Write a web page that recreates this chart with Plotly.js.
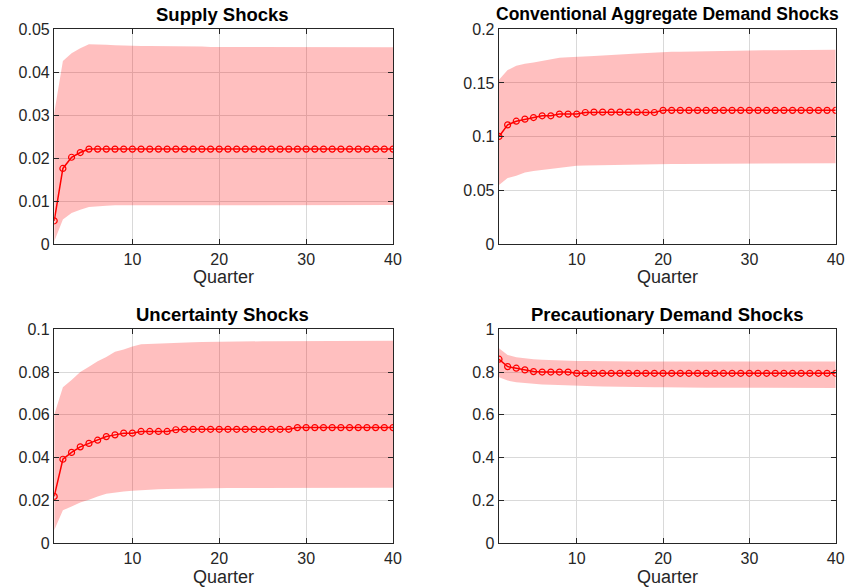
<!DOCTYPE html>
<html>
<head>
<meta charset="utf-8">
<script src="https://cdn.plot.ly/plotly-3.0.1.min.js"></script>
<style>html,body{margin:0;padding:0;background:#fff;}#chart{width:859px;height:587px;}</style>
</head>
<body>
<div id="chart"></div>
<script>
// Quarters 1..40
const quarters = [1,2,3,4,5,6,7,8,9,10,11,12,13,14,15,16,17,18,19,20,21,22,23,24,25,26,27,28,29,30,31,32,33,34,35,36,37,38,39,40];

const titles = ["Supply Shocks", "Conventional Aggregate Demand Shocks", "Uncertainty Shocks", "Precautionary Demand Shocks"];

// Supply Shocks
const supplyMid = [0.0054,0.0176,0.0202,0.0213,0.0221,0.0221,0.0221,0.0221,0.0221,0.0221,0.0221,0.0221,0.0221,0.0221,0.0221,0.0221,0.0221,0.0221,0.0221,0.0221,0.0221,0.0221,0.0221,0.0221,0.0221,0.0221,0.0221,0.0221,0.0221,0.0221,0.0221,0.0221,0.0221,0.0221,0.0221,0.0221,0.0221,0.0221,0.0221,0.0221];
const supplyUpper = [0.0305,0.0426,0.0444,0.0456,0.0465,0.0465,0.0464,0.0463,0.0462,0.0462,0.0461,0.0461,0.0461,0.0460,0.0460,0.0460,0.0460,0.0460,0.0459,0.0459,0.0459,0.0459,0.0459,0.0459,0.0459,0.0459,0.0459,0.0459,0.0458,0.0458,0.0458,0.0458,0.0458,0.0458,0.0458,0.0458,0.0458,0.0458,0.0458,0.0458];
const supplyLower = [0.0006,0.0057,0.0072,0.0080,0.0086,0.0088,0.0089,0.0090,0.0090,0.0090,0.0090,0.0091,0.0091,0.0091,0.0091,0.0091,0.0091,0.0091,0.0091,0.0091,0.0091,0.0091,0.0091,0.0091,0.0091,0.0091,0.0091,0.0091,0.0091,0.0091,0.0091,0.0091,0.0091,0.0091,0.0091,0.0091,0.0091,0.0091,0.0091,0.0091];

// Conventional Aggregate Demand Shocks
const demandMid = [0.1002,0.1110,0.1144,0.1163,0.1178,0.1194,0.1194,0.1210,0.1210,0.1210,0.1225,0.1228,0.1228,0.1228,0.1228,0.1228,0.1228,0.1225,0.1225,0.1245,0.1245,0.1245,0.1245,0.1245,0.1245,0.1245,0.1245,0.1245,0.1245,0.1245,0.1245,0.1245,0.1245,0.1245,0.1245,0.1245,0.1245,0.1245,0.1245,0.1245];
const demandUpper = [0.1530,0.1620,0.1660,0.1680,0.1690,0.1705,0.1720,0.1736,0.1740,0.1746,0.1750,0.1752,0.1755,0.1758,0.1760,0.1770,0.1775,0.1780,0.1780,0.1788,0.1790,0.1792,0.1794,0.1796,0.1798,0.1800,0.1801,0.1802,0.1803,0.1804,0.1805,0.1806,0.1806,0.1807,0.1807,0.1808,0.1808,0.1809,0.1809,0.1810];
const demandLower = [0.0550,0.0614,0.0636,0.0667,0.0680,0.0690,0.0705,0.0716,0.0722,0.0729,0.0732,0.0734,0.0736,0.0737,0.0738,0.0740,0.0741,0.0742,0.0743,0.0744,0.0745,0.0746,0.0746,0.0747,0.0748,0.0748,0.0749,0.0749,0.0750,0.0750,0.0751,0.0751,0.0751,0.0752,0.0752,0.0752,0.0752,0.0753,0.0753,0.0753];

// Uncertainty Shocks
const uncertMid = [0.0218,0.0392,0.0424,0.0450,0.0466,0.0481,0.0498,0.0506,0.0514,0.0514,0.0522,0.0522,0.0522,0.0522,0.0530,0.0532,0.0532,0.0532,0.0532,0.0532,0.0532,0.0532,0.0532,0.0532,0.0532,0.0532,0.0532,0.0532,0.0540,0.0540,0.0540,0.0540,0.0540,0.0540,0.0540,0.0540,0.0540,0.0540,0.0540,0.0540];
const uncertUpper = [0.0600,0.0729,0.0763,0.0800,0.0825,0.0850,0.0870,0.0895,0.0906,0.0920,0.0930,0.0932,0.0934,0.0935,0.0937,0.0938,0.0939,0.0940,0.0941,0.0942,0.0942,0.0943,0.0943,0.0943,0.0944,0.0944,0.0944,0.0944,0.0945,0.0945,0.0945,0.0945,0.0945,0.0946,0.0946,0.0946,0.0946,0.0946,0.0946,0.0946];
const uncertLower = [0.0060,0.0153,0.0171,0.0190,0.0202,0.0218,0.0230,0.0237,0.0241,0.0245,0.0248,0.0250,0.0251,0.0253,0.0254,0.0255,0.0256,0.0256,0.0257,0.0257,0.0257,0.0257,0.0257,0.0257,0.0257,0.0258,0.0258,0.0258,0.0258,0.0258,0.0258,0.0258,0.0258,0.0258,0.0258,0.0258,0.0258,0.0258,0.0258,0.0258];

// Precautionary Demand Shocks
const precMid = [0.860,0.8255,0.818,0.810,0.802,0.800,0.800,0.800,0.800,0.794,0.794,0.794,0.794,0.794,0.794,0.794,0.794,0.794,0.794,0.794,0.794,0.794,0.794,0.794,0.794,0.794,0.794,0.794,0.794,0.794,0.794,0.794,0.794,0.794,0.794,0.794,0.794,0.794,0.794,0.794];
const precUpper = [0.911,0.880,0.869,0.864,0.860,0.858,0.856,0.855,0.853,0.852,0.852,0.851,0.851,0.850,0.850,0.850,0.849,0.849,0.849,0.849,0.849,0.849,0.849,0.849,0.849,0.849,0.849,0.849,0.849,0.849,0.849,0.849,0.849,0.849,0.849,0.849,0.849,0.849,0.849,0.849];
const precLower = [0.776,0.760,0.752,0.748,0.745,0.742,0.740,0.738,0.736,0.735,0.734,0.733,0.732,0.731,0.731,0.730,0.730,0.729,0.729,0.729,0.728,0.728,0.728,0.727,0.727,0.727,0.727,0.726,0.726,0.726,0.726,0.726,0.725,0.725,0.725,0.725,0.725,0.725,0.725,0.725];

// Tick values / labels
const xTickVals = [10,20,30,40];
const xTickText = ["10","20","30","40"];
const yTicks1 = [0,0.01,0.02,0.03,0.04,0.05];
const yText1 = ["0","0.01","0.02","0.03","0.04","0.05"];
const yTicks2 = [0,0.05,0.1,0.15,0.2];
const yText2 = ["0","0.05","0.1","0.15","0.2"];
const yTicks3 = [0,0.02,0.04,0.06,0.08,0.1];
const yText3 = ["0","0.02","0.04","0.06","0.08","0.1"];
const yTicks4 = [0,0.2,0.4,0.6,0.8,1];
const yText4 = ["0","0.2","0.4","0.6","0.8","1"];
const xLabel = "Quarter";

const panels = [
  {mid: supplyMid, up: supplyUpper, lo: supplyLower, yv: yTicks1, yt: yText1, yr: [0,0.05]},
  {mid: demandMid, up: demandUpper, lo: demandLower, yv: yTicks2, yt: yText2, yr: [0,0.2]},
  {mid: uncertMid, up: uncertUpper, lo: uncertLower, yv: yTicks3, yt: yText3, yr: [0,0.1]},
  {mid: precMid, up: precUpper, lo: precLower, yv: yTicks4, yt: yText4, yr: [0,1]}
];

const W = 859, H = 587;
// pixel boxes of the four axes [left, right, top, bottom]
const boxes = [
  [54.2, 393, 29.3, 244],
  [499, 835.7, 29.3, 244],
  [54.2, 393, 329.3, 543],
  [499, 835.7, 329.3, 543]
];
const titleCenters = [[223, 14], [667, 14], [223, 314], [667, 314]];
const titleSizes = [18.5, 17.5, 18.5, 18.5];
const labelY = [277, 277, 577, 577];

const font = "Liberation Sans, Arial, Helvetica, sans-serif";
const traces = [];
const layout = {
  width: W, height: H,
  margin: {l: 0, r: 0, t: 0, b: 0},
  paper_bgcolor: "#ffffff",
  plot_bgcolor: "#ffffff",
  showlegend: false,
  annotations: []
};

panels.forEach((p, i) => {
  const n = i + 1;
  const xa = n === 1 ? "x" : "x" + n;
  const ya = n === 1 ? "y" : "y" + n;
  traces.push({x: quarters, y: p.lo, xaxis: xa, yaxis: ya, type: "scatter", mode: "lines",
    line: {width: 0, color: "rgba(255,0,0,0)"}, hoverinfo: "skip"});
  traces.push({x: quarters, y: p.up, xaxis: xa, yaxis: ya, type: "scatter", mode: "lines",
    line: {width: 0, color: "rgba(255,0,0,0)"}, fill: "tonexty", fillcolor: "rgba(255,0,0,0.25)", hoverinfo: "skip"});
  traces.push({x: quarters, y: p.mid, xaxis: xa, yaxis: ya, type: "scatter", mode: "lines+markers",
    line: {color: "#ff0000", width: 1.5},
    marker: {symbol: "circle-open", size: 6, color: "#ff0000", line: {width: 1.2, color: "#ff0000"}}});

  const b = boxes[i];
  const axCommon = {
    showline: true, linecolor: "#262626", linewidth: 1.3, mirror: "ticks",
    ticks: "inside", ticklen: 5, tickwidth: 1, tickcolor: "#262626",
    showgrid: true, gridcolor: "#d9d9d9", gridwidth: 1, zeroline: false,
    tickfont: {family: font, size: 16, color: "#262626"}, fixedrange: true
  };
  layout["xaxis" + (n === 1 ? "" : n)] = Object.assign({}, axCommon, {
    domain: [b[0] / W, b[1] / W], anchor: ya, range: [1, 40],
    tickmode: "array", tickvals: xTickVals, ticktext: xTickText
  });
  layout["yaxis" + (n === 1 ? "" : n)] = Object.assign({}, axCommon, {
    domain: [1 - b[3] / H, 1 - b[2] / H], anchor: xa, range: p.yr,
    tickmode: "array", tickvals: p.yv, ticktext: p.yt
  });

  layout.annotations.push({
    text: "<b>" + titles[i] + "</b>", xref: "paper", yref: "paper",
    x: titleCenters[i][0] / W, y: 1 - titleCenters[i][1] / H,
    xanchor: "center", yanchor: "middle", showarrow: false,
    font: {family: font, size: titleSizes[i], color: "#000000"}
  });
  layout.annotations.push({
    text: xLabel, xref: "paper", yref: "paper",
    x: ((b[0] + b[1]) / 2) / W, y: 1 - labelY[i] / H,
    xanchor: "center", yanchor: "middle", showarrow: false,
    font: {family: font, size: 18, color: "#262626"}
  });
});

Plotly.newPlot("chart", traces, layout, {displayModeBar: false, staticPlot: true});
</script>
</body>
</html>
